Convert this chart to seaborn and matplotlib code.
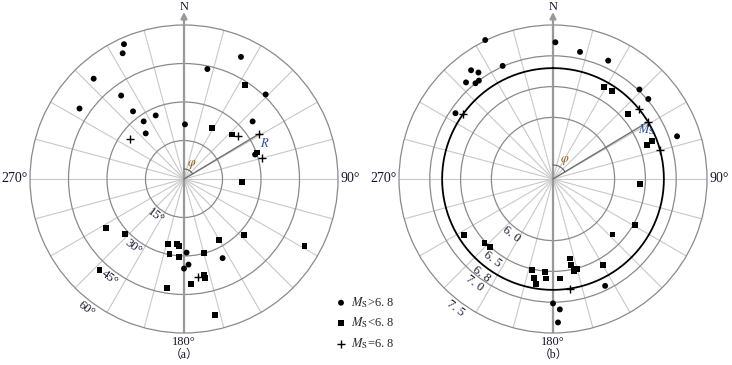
import numpy as np
import pandas as pd
import matplotlib
matplotlib.use("Agg")
import matplotlib.pyplot as plt
import seaborn as sns

# (a): azimuth phi (deg, clockwise from N) and distance R (deg)
a_gt_phi = [336, 334, 318, 304, 323, 323, 325, 336, 320, 1, 12, 25, 44, 50, 71, 178, 154, 177, 180]
a_gt_r = [57.5, 54.5, 52.6, 49.1, 40.7, 33.0, 27.4, 27.1, 23.2, 21.3, 43.8, 52.5, 45.8, 34.9, 29.3, 28.7, 34.3, 33.4, 34.9]
a_lt_phi = [33, 29, 47, 70, 93, 238, 227, 194, 186, 184, 191, 184, 165, 150, 133, 119, 223, 189, 176, 168, 168, 167]
a_lt_r = [43.6, 22.7, 25.4, 30.2, 22.7, 35.7, 31.2, 26.1, 25.5, 26.3, 29.7, 30.3, 29.8, 27.5, 31.8, 53.7, 48.3, 43.0, 41.1, 38.2, 39.3, 54.4]
a_eq_phi = [306, 52, 59, 75, 172]
a_eq_r = [26.2, 26.9, 34.3, 31.3, 38.4]

# (b): azimuth phi and magnitude Ms
b_gt_phi = [334, 1, 12, 25, 323, 325, 336, 318, 321, 323, 304, 44, 50, 71, 154, 180, 177, 178]
b_gt_m = [7.51, 7.22, 7.11, 7.12, 7.21, 7.11, 7.01, 7.11, 7.00, 7.00, 6.91, 7.02, 7.02, 7.13, 6.93, 7.02, 7.12, 7.33]
b_lt_phi = [29, 34, 49, 70, 69, 93, 119, 133, 238, 227, 223, 168, 168, 167, 165, 150, 193, 185, 191, 184, 189, 176]
b_lt_m = [6.71, 6.72, 6.61, 6.63, 6.72, 6.42, 6.53, 6.32, 6.71, 6.52, 6.51, 6.32, 6.42, 6.53, 6.52, 6.62, 6.51, 6.52, 6.63, 6.62, 6.72, 6.62]
b_eq_phi = [306, 51, 59, 75, 171]
b_eq_m = [6.8, 6.8, 6.8, 6.8, 6.8]

a_rings = [15, 30, 45, 60]
a_ring_labels = ["15°", "30°", "45°", "60°"]
b_rings = [6.0, 6.5, 6.8, 7.0, 7.5]
b_ring_labels = ["6. 0", "6. 5", "6. 8", "7. 0", "7. 5"]
legend_labels = [r"$M_{\rm S}$>6. 8", r"$M_{\rm S}$<6. 8", r"$M_{\rm S}$=6. 8"]

sns.set_style("white")
plt.rcParams["font.family"] = ["Liberation Serif", "Noto Sans CJK SC"]
plt.rcParams["mathtext.fontset"] = "stix"

TXT = "#151530"
RING = "#8a8a8a"
SPOKE = "#c8c8c8"
AXIS = "#999999"

fig = plt.figure(figsize=(7.32, 3.65), dpi=100)
R_PX = 154.0


def make_ax(cx):
    ax = fig.add_axes([(cx - R_PX) / 732, (365 - 179 - R_PX) / 365, 2 * R_PX / 732, 2 * R_PX / 365],
                      projection="polar")
    ax.set_theta_zero_location("N")
    ax.set_theta_direction(-1)
    return ax


def scatter_sets(ax, sets):
    for phi, r, mk, s, lab in sets:
        d = pd.DataFrame({"phi": np.radians(phi), "r": r})
        if mk == "+":
            sns.scatterplot(data=d, x="phi", y="r", marker="+", s=s, color="k", linewidth=1.0,
                            ax=ax, legend=False, label=lab, zorder=5, clip_on=False)
        else:
            sns.scatterplot(data=d, x="phi", y="r", marker=mk, s=s, color="k", edgecolor="none",
                            ax=ax, legend=False, label=lab, zorder=5, clip_on=False)
    ax.set_xlabel("")
    ax.set_ylabel("")


def frame(ax, rmin, rmax, rticks):
    ax.set_ylim(rmin, rmax)
    ax.set_xticks(np.radians(np.arange(0, 360, 15)))
    ax.set_xticklabels([])
    ax.set_yticks(rticks)
    ax.set_yticklabels([])
    ax.tick_params(length=0)
    ax.xaxis.grid(True, color=SPOKE, lw=0.8)
    ax.yaxis.grid(True, color=RING, lw=0.9)
    ax.spines["polar"].set_color(RING)
    ax.spines["polar"].set_linewidth(0.9)
    # N-S axis with arrow
    ax.annotate("", xy=(0.5, 0.5 + 0.5 * 167 / R_PX), xytext=(0.5, 0.5), xycoords="axes fraction",
                arrowprops=dict(arrowstyle="-|>", color=AXIS, lw=1.6, mutation_scale=9, shrinkA=0, shrinkB=0),
                annotation_clip=False)
    ax.plot([0.5, 0.5], [0.5, 0.0], transform=ax.transAxes, color=AXIS, lw=1.6, zorder=2)
    ax.text(0.5, 0.5 + 0.5 * 172 / R_PX, "N", transform=ax.transAxes, ha="center", va="center",
            fontsize=9, color=TXT)
    ax.text(0.5, 0.5 - 0.5 * 163 / R_PX, "180°", transform=ax.transAxes, ha="center", va="center",
            fontsize=9, color=TXT)
    ax.text(0.5 - 0.5 * 156 / R_PX, 0.5, "270°", transform=ax.transAxes, ha="right", va="center",
            fontsize=10, color=TXT)
    ax.text(0.5 + 0.5 * 157 / R_PX, 0.5, "90°", transform=ax.transAxes, ha="left", va="center",
            fontsize=10, color=TXT)


# ---- panel (a)
ax1 = make_ax(184)
scatter_sets(ax1, [(a_gt_phi, a_gt_r, "o", 18, legend_labels[0]),
                   (a_lt_phi, a_lt_r, "s", 18, legend_labels[1]),
                   (a_eq_phi, a_eq_r, "+", 32, legend_labels[2])])
frame(ax1, 0, 60, a_rings[:-1])
k1 = 60 / R_PX
for rv, lab in zip(a_rings, a_ring_labels):
    ax1.text(np.radians(217), rv + 8 * k1, lab, rotation=-37, ha="center", va="center",
             rotation_mode="anchor", fontsize=9, color=TXT)
ax1.plot([np.radians(59), np.radians(59)], [0, 34.5], color="#707070", lw=1.0, zorder=3)
arc = np.radians(np.linspace(0, 59, 30))
ax1.plot(arc, np.full(30, 10 * k1), color="#606060", lw=0.8, zorder=3)
ax1.text(np.radians(27), 16.5 * k1, r"$\varphi$", ha="center", va="center", fontsize=9, color="#8a5a10")
ax1.text(np.radians(66), 88 * k1, r"$R$", ha="center", va="center", fontsize=9, color="#2a4a9a")
ax1.text(0.5, 0.5 - 0.5 * 176 / R_PX, "（a）", transform=ax1.transAxes, ha="center", va="center",
         fontsize=8.5, color=TXT)

# ---- panel (b)
ax2 = make_ax(553)
scatter_sets(ax2, [(b_gt_phi, b_gt_m, "o", 18, "_gt"),
                   (b_lt_phi, b_lt_m, "s", 18, "_lt"),
                   (b_eq_phi, b_eq_m, "+", 32, "_eq")])
frame(ax2, 5.0, 7.5, [6.0, 6.5, 7.0])
th = np.radians(np.linspace(0, 360, 361))
ax2.plot(th, np.full(361, b_rings[2]), color="k", lw=1.3, zorder=3)
k2 = 2.5 / R_PX
for rv, lab in zip(b_rings, b_ring_labels):
    ax2.text(np.radians(217), rv + 8 * k2, lab, rotation=-37, ha="center", va="center",
             rotation_mode="anchor", fontsize=9, color=TXT)
ax2.plot([np.radians(59), np.radians(59)], [5.0, 6.8], color="#707070", lw=1.0, zorder=3)
ax2.plot(arc, np.full(30, 5.0 + 14 * k2), color="#606060", lw=0.8, zorder=3)
ax2.text(np.radians(31), 5.0 + 22 * k2, r"$\varphi$", ha="center", va="center", fontsize=9, color="#8a5a10")
ax2.text(np.radians(62), 6.72, r"$M_{\rm S}$", ha="center", va="center", fontsize=9, color="#2a4a9a")
ax2.text(0.5, 0.5 - 0.5 * 176 / R_PX, "（b）", transform=ax2.transAxes, ha="center", va="center",
         fontsize=8.5, color=TXT)

# shared legend
h, l = ax1.get_legend_handles_labels()
fig.legend(h, l, loc="upper left", bbox_to_anchor=(336 / 732, 1 - 295 / 365), frameon=False,
           fontsize=9, handlelength=0.8, handletextpad=0.4, labelspacing=0.45, borderpad=0,
           borderaxespad=0)

fig.savefig("out.png", dpi=100)
